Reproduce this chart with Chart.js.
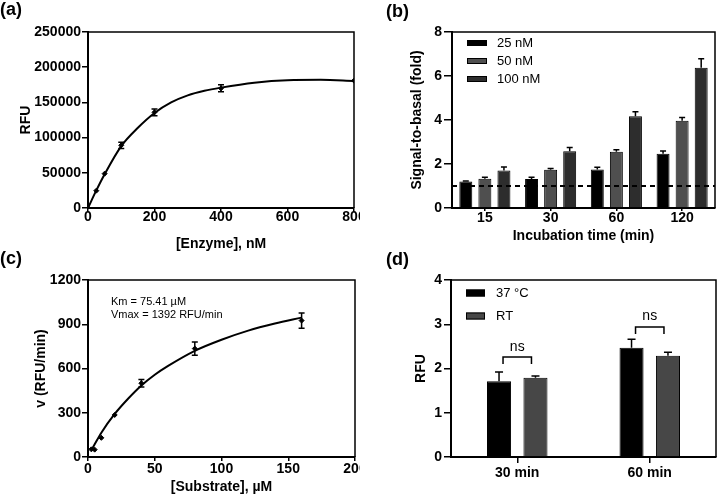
<!DOCTYPE html>
<html>
<head>
<meta charset="utf-8">
<style>
  html, body { margin: 0; padding: 0; background: #fff; }
  #fig { position: relative; width: 720px; height: 502px; overflow: hidden; font-family: 'Liberation Sans', Arial, sans-serif; color: #000; }
  canvas { position: absolute; }
  .lab { position: absolute; font-weight: bold; font-size: 18px; line-height: 18px; }
  .note { position: absolute; font-size: 11px; line-height: 13px; }
</style>
<script src="https://cdn.jsdelivr.net/npm/chart.js@4.4.2/dist/chart.umd.min.js"></script>
</head>
<body>
<div id="fig">
  <canvas id="ca" width="360" height="256" style="left:0;top:0"></canvas>
  <canvas id="cb" width="360" height="256" style="left:360px;top:0"></canvas>
  <canvas id="cc" width="360" height="252" style="left:0;top:250px"></canvas>
  <canvas id="cd" width="360" height="252" style="left:360px;top:250px"></canvas>
  <div class="lab" style="left:0;top:0">(a)</div>
  <div class="lab" style="left:386px;top:2px">(b)</div>
  <div class="lab" style="left:0;top:249px">(c)</div>
  <div class="lab" style="left:386px;top:250px">(d)</div>
  <div class="note" id="kin" style="left:111px;top:295px"></div>
</div>

<script>
// ---- (a) enzyme titration ----
const enzX = [0, 25, 50, 100, 200, 400, 800];
const enzY = [0, 24600, 48800, 89000, 135900, 170000, 180900];
const enzErr = [0, 0, 0, 4500, 4700, 5000, 0];
const enzFitX = [0, 25, 50, 100, 150, 200, 250, 300, 350, 400, 500, 600, 700, 800];
const enzFitY = [0, 25000, 48000, 88000, 114000, 135000, 150000, 160000, 166500, 171000, 178000, 181500, 182000, 180500];

// ---- (b) incubation time ----
const timeLabels = ['15', '30', '60', '120'];
const s25 = [1.20, 1.32, 1.75, 2.47];
const s50 = [1.33, 1.74, 2.56, 3.97];
const s100 = [1.71, 2.58, 4.17, 6.38];
const e25 = [0.03, 0.08, 0.10, 0.12];
const e50 = [0.07, 0.05, 0.09, 0.14];
const e100 = [0.15, 0.17, 0.20, 0.40];
const basal = 1;

// ---- (c) substrate kinetics ----
const subX = [2.5, 5, 10, 20, 40, 80, 160];
const subY = [52, 50, 130, 285, 500, 735, 925];
const subErr = [0, 0, 0, 0, 26, 45, 52];
const subFitX = [2.5, 5, 10, 20, 30, 40, 50, 60, 80, 100, 120, 140, 160];
const subFitY = [45, 86, 165, 292, 395, 485, 558, 618, 720, 795, 857, 905, 945];
const kinText = ['Km = 75.41 \u00b5M', 'Vmax = 1392 RFU/min'];

// ---- (d) temperature ----
const tempLabels = ['30 min', '60 min'];
const t37 = [1.71, 2.47];
const tRT = [1.79, 2.29];
const e37 = [0.21, 0.19];
const eRT = [0.04, 0.08];
const sigY = [2.26, 2.94];
const sigTextY = [2.49, 3.19];

document.getElementById('kin').innerHTML = kinText.join('<br>');

Chart.defaults.font.family = "'Liberation Sans', Arial, sans-serif";
Chart.defaults.color = '#000';

const pts = (xs, ys) => xs.map((x, i) => ({x: x, y: ys[i]}));

// frame on top and right of the plot area
const boxPlugin = {
  id: 'box',
  afterDraw(chart) {
    const {ctx, chartArea: a} = chart;
    ctx.save();
    ctx.strokeStyle = '#000';
    ctx.lineWidth = 1.5;
    ctx.beginPath();
    ctx.moveTo(a.left, a.top);
    ctx.lineTo(a.right, a.top);
    ctx.lineTo(a.right, a.bottom);
    ctx.stroke();
    ctx.restore();
  }
};

// error bars, read from dataset.err
const errPlugin = {
  id: 'err',
  afterDatasetsDraw(chart) {
    const ctx = chart.ctx, ys = chart.scales.y;
    chart.data.datasets.forEach((ds, di) => {
      if (!ds.err) return;
      const meta = chart.getDatasetMeta(di);
      meta.data.forEach((el, i) => {
        const e = ds.err[i];
        if (!e) return;
        const d = ds.data[i];
        const v = typeof d === 'object' ? d.y : d;
        const cap = ds.errCap || 3;
        const yt = ys.getPixelForValue(v + e);
        const yb = ds.errUp ? el.y : ys.getPixelForValue(v - e);
        ctx.save();
        ctx.strokeStyle = '#000';
        ctx.lineWidth = 1.5;
        ctx.beginPath();
        ctx.moveTo(el.x, yt); ctx.lineTo(el.x, yb);
        ctx.moveTo(el.x - cap, yt); ctx.lineTo(el.x + cap, yt);
        if (!ds.errUp) { ctx.moveTo(el.x - cap, yb); ctx.lineTo(el.x + cap, yb); }
        ctx.stroke();
        ctx.restore();
      });
    });
  }
};

// legend drawn inside the plot
const boxLegend = {
  id: 'boxLegend',
  afterDraw(chart, args, o) {
    if (!o || o.x == null) return;
    const ctx = chart.ctx;
    ctx.save();
    ctx.font = o.font;
    ctx.textBaseline = 'middle';
    chart.data.datasets.forEach((ds, i) => {
      const y = o.y + i * o.rowH;
      ctx.fillStyle = ds.backgroundColor;
      ctx.fillRect(o.x, y - o.boxH / 2, o.boxW, o.boxH);
      ctx.strokeStyle = '#000';
      ctx.lineWidth = 1;
      ctx.strokeRect(o.x + 0.5, y - o.boxH / 2 + 0.5, o.boxW - 1, o.boxH - 1);
      ctx.fillStyle = '#000';
      ctx.fillText(ds.label, o.x + o.boxW + o.gap, y);
    });
    ctx.restore();
  }
};

const basalPlugin = {
  id: 'basal',
  afterDatasetsDraw(chart, args, o) {
    if (!o || o.value == null) return;
    const {ctx, chartArea: a} = chart;
    const y = chart.scales.y.getPixelForValue(o.value);
    ctx.save();
    ctx.strokeStyle = '#000';
    ctx.lineWidth = 2;
    ctx.setLineDash([5, 4]);
    ctx.beginPath();
    ctx.moveTo(a.left, y); ctx.lineTo(a.right, y);
    ctx.stroke();
    ctx.restore();
  }
};

const sigPlugin = {
  id: 'sig',
  afterDatasetsDraw(chart, args, o) {
    if (!o || !o.y) return;
    const ctx = chart.ctx, ys = chart.scales.y;
    const m0 = chart.getDatasetMeta(0), m1 = chart.getDatasetMeta(1);
    o.y.forEach((v, i) => {
      const x0 = m0.data[i].x + 4, x1 = m1.data[i].x - 4;
      const y = ys.getPixelForValue(v);
      ctx.save();
      ctx.strokeStyle = '#000';
      ctx.lineWidth = 1.5;
      ctx.beginPath();
      ctx.moveTo(x0, y + 7); ctx.lineTo(x0, y); ctx.lineTo(x1, y); ctx.lineTo(x1, y + 7);
      ctx.stroke();
      ctx.fillStyle = '#000';
      ctx.font = "14px 'Liberation Sans', Arial, sans-serif";
      ctx.textAlign = 'center';
      ctx.textBaseline = 'middle';
      ctx.fillText('ns', (x0 + x1) / 2, ys.getPixelForValue(o.textY[i]));
      ctx.restore();
    });
  }
};

function axes(p) {
  const tick = {size: 14, weight: 'bold'};
  const ttl = {size: 14, weight: 'bold'};
  return {
    x: {
      type: p.xType || 'linear',
      min: p.xMin, max: p.xMax,
      offset: p.xType === 'category',
      grid: {display: true, drawOnChartArea: false, drawTicks: true, tickLength: p.xTick, color: '#000', lineWidth: 1.5, offset: false},
      border: {display: true, color: '#000', width: 2},
      ticks: {font: tick, padding: p.xPad, stepSize: p.xStep, maxRotation: 0, autoSkip: false},
      title: {display: !!p.xTitle, text: p.xTitle, font: ttl, padding: {top: 0, bottom: p.xPb}},
      afterFit(s) { s.height = p.xH; s.paddingLeft = 0; s.paddingRight = 0; }
    },
    y: {
      min: 0, max: p.yMax,
      grid: {display: true, drawOnChartArea: false, drawTicks: true, tickLength: p.yTick, color: '#000', lineWidth: 1.5},
      border: {display: true, color: '#000', width: 2},
      ticks: {font: tick, padding: p.yPad, stepSize: p.yStep, callback: v => String(v)},
      title: {display: true, text: p.yTitle, font: ttl, padding: {top: p.yPt, bottom: 0}},
      afterFit(s) { s.width = p.yW; s.paddingTop = 0; s.paddingBottom = 0; }
    }
  };
}

const common = {
  responsive: false,
  animation: false,
  devicePixelRatio: 1,
  events: []
};

// (a)
new Chart(document.getElementById('ca'), {
  type: 'scatter',
  data: {
    datasets: [
      {data: pts(enzFitX, enzFitY), showLine: true, borderColor: '#000', borderWidth: 2, pointRadius: 0, cubicInterpolationMode: 'monotone'},
      {data: pts(enzX, enzY), err: enzErr, errCap: 3, pointStyle: 'rectRot', pointRadius: 2.5, backgroundColor: '#000', borderColor: '#000'}
    ]
  },
  options: Object.assign({}, common, {
    layout: {padding: {left: 0, right: 6, top: 32, bottom: 0}},
    plugins: {legend: {display: false}, tooltip: {enabled: false}},
    scales: axes({xMin: 0, xMax: 800, xStep: 200, xTitle: '[Enzyme], nM', xH: 48, xPb: 3.6, xTick: 4, xPad: -3,
      yMax: 250000, yStep: 50000, yTitle: 'RFU', yW: 88, yTick: 6, yPad: 1, yPt: 17.6})
  }),
  plugins: [boxPlugin, errPlugin]
});

// (b)
new Chart(document.getElementById('cb'), {
  type: 'bar',
  data: {
    labels: timeLabels,
    datasets: [
      {label: '25 nM', data: s25, err: e25, errUp: true, errCap: 3, backgroundColor: '#000000'},
      {label: '50 nM', data: s50, err: e50, errUp: true, errCap: 3, backgroundColor: '#4f4f4f'},
      {label: '100 nM', data: s100, err: e100, errUp: true, errCap: 3, backgroundColor: '#2d2d2d'}
    ].map(d => Object.assign(d, {borderColor: '#000', borderWidth: 1, categoryPercentage: 0.87, barPercentage: 0.68}))
  },
  options: Object.assign({}, common, {
    layout: {padding: {left: 0, right: 5, top: 32, bottom: 0}},
    plugins: {
      legend: {display: false}, tooltip: {enabled: false},
      boxLegend: {x: 107, y: 43, rowH: 18, boxW: 20, boxH: 6, gap: 10, font: "13px 'Liberation Sans', Arial, sans-serif"},
      basal: {value: basal}
    },
    scales: axes({xType: 'category', xTitle: 'Incubation time (min)', xH: 48, xPb: 11, xTick: 3, xPad: -1,
      yMax: 8, yStep: 2, yTitle: 'Signal-to-basal (fold)', yW: 92, yTick: 8, yPad: 2, yPt: 49})
  }),
  plugins: [boxPlugin, errPlugin, boxLegend, basalPlugin]
});

// (c)
new Chart(document.getElementById('cc'), {
  type: 'scatter',
  data: {
    datasets: [
      {data: pts(subFitX, subFitY), showLine: true, borderColor: '#000', borderWidth: 2, pointRadius: 0, cubicInterpolationMode: 'monotone'},
      {data: pts(subX, subY), err: subErr, errCap: 3, pointStyle: 'rectRot', pointRadius: 2.5, backgroundColor: '#000', borderColor: '#000'}
    ]
  },
  options: Object.assign({}, common, {
    layout: {padding: {left: 0, right: 5, top: 30, bottom: 0}},
    plugins: {legend: {display: false}, tooltip: {enabled: false}},
    scales: axes({xMin: 0, xMax: 200, xStep: 50, xTitle: '[Substrate], \u00b5M', xH: 45, xPb: 6.6, xTick: 4, xPad: 0,
      yMax: 1200, yStep: 300, yTitle: 'v (RFU/min)', yW: 88, yTick: 6, yPad: 1, yPt: 32.6})
  }),
  plugins: [boxPlugin, errPlugin]
});

// (d)
new Chart(document.getElementById('cd'), {
  type: 'bar',
  data: {
    labels: tempLabels,
    datasets: [
      {label: '37 \u00b0C', data: t37, err: e37, errUp: true, errCap: 4, backgroundColor: '#000000'},
      {label: 'RT', data: tRT, err: eRT, errUp: true, errCap: 4, backgroundColor: '#474747'}
    ].map(d => Object.assign(d, {borderColor: '#000', borderWidth: 1, categoryPercentage: 0.55, barPercentage: 0.66}))
  },
  options: Object.assign({}, common, {
    layout: {padding: {left: 0, right: 4, top: 30, bottom: 0}},
    plugins: {
      legend: {display: false}, tooltip: {enabled: false},
      boxLegend: {x: 106, y: 43, rowH: 23, boxW: 19, boxH: 7, gap: 11, font: "13px 'Liberation Sans', Arial, sans-serif"},
      sig: {y: sigY, textY: sigTextY}
    },
    scales: axes({xType: 'category', xH: 45, xPb: 0, xTick: 6, xPad: 2,
      yMax: 4, yStep: 1, yTitle: 'RFU', yW: 91, yTick: 7, yPad: 2, yPt: 53})
  }),
  plugins: [boxPlugin, errPlugin, boxLegend, sigPlugin]
});
</script>
</body>
</html>
